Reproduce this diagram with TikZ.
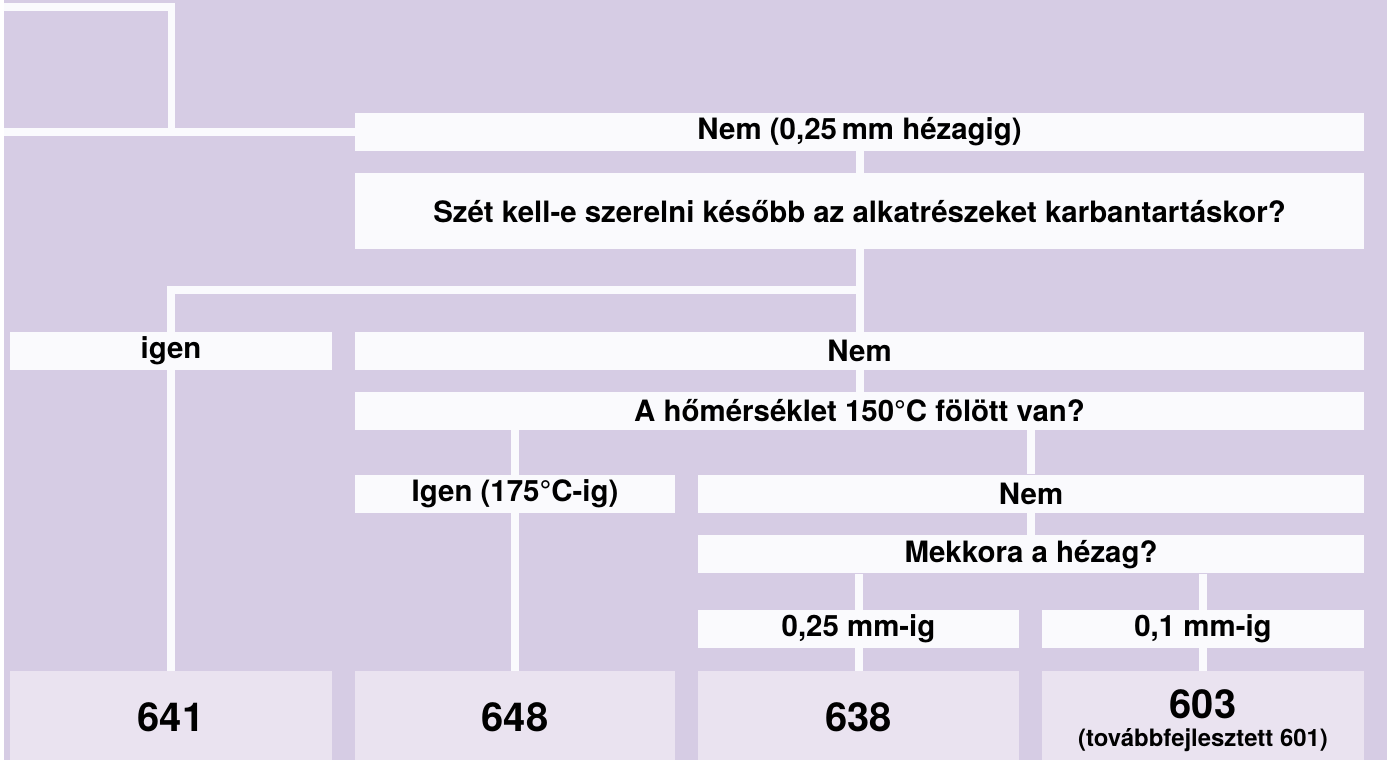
\documentclass[tikz,border=0pt]{standalone}
\usepackage{fontspec}
\setmainfont{TeX Gyre Heros}
\usetikzlibrary{backgrounds}
\definecolor{bgc}{RGB}{214,204,228}
\definecolor{wbox}{RGB}{250,250,253}
\definecolor{pbox}{RGB}{234,227,240}
\tikzset{
  ln/.style={draw=wbox, line width=8pt, line join=miter},
  bx/.style={fill=wbox, inner sep=0pt, minimum height=38pt, text=black,
    font=\bfseries\fontsize{29.5}{34}\selectfont},
  rbox/.style={fill=pbox, inner sep=0pt, minimum height=89pt, text=black,
    text height=33pt, font=\bfseries\fontsize{40}{46}\selectfont},
}
\begin{document}
\begin{tikzpicture}[x=1pt,y=-1pt]
% boxes
\node[bx, minimum width=1012pt] (box1) at (858,132) {Nem (0,25\,mm hézagig)};
\node[bx, minimum width=1012pt, minimum height=76pt] (box2) at (858,212) {Szét kell-e szerelni később az alkatrészeket karbantartáskor?};
\node[bx, minimum width=323pt] (igen) at (167.5,352) {igen};
\node[bx, minimum width=1012pt] (nem1) at (858,352) {Nem};
\node[bx, minimum width=1012pt] (hom) at (858,412) {A hőmérséklet 150°C fölött van?};
\node[bx, minimum width=321pt] (igen175) at (512.5,495) {Igen (175°C-ig)};
\node[bx, minimum width=668pt] (nem2) at (1030,495) {Nem};
\node[bx, minimum width=668pt] (mekk) at (1030,556) {Mekkora a hézag?};
\node[bx, minimum width=322pt] (g25) at (857,631) {0,25 mm-ig};
\node[bx, minimum width=323pt] (g01) at (1202.5,631) {0,1 mm-ig};
\node[rbox, minimum width=323pt] (b641) at (167.5,717.5) {641};
\node[rbox, minimum width=321pt] (b648) at (512.5,717.5) {648};
\node[rbox, minimum width=322pt] (b638) at (857,717.5) {638};
\node[rbox, minimum width=323pt] (b603) at (1202.5,717.5) {};
\node[font=\bfseries\fontsize{40}{46}\selectfont, inner sep=0pt] (t603) at (1202.5,706.5) {603};
\node[font=\bfseries\fontsize{24}{28}\selectfont, inner sep=0pt] (t601) at (1202.5,742) {(továbbfejlesztett 601)};
% connectors
\coordinate (tl) at (0,7);
\coordinate (tv) at (168,132);
\coordinate (jl) at (0,132);
\coordinate (j1) at (858,291);
\begin{scope}[on background layer]
\fill[bgc] (0,0) rectangle (1387,762);
\draw[ln] (tl) -| (tv);
\draw[ln] (jl) -- (box1.west);
\draw[ln] (box1.south) -- (box2.north);
\draw[ln] (box2.south) -- (nem1.north);
\draw[ln] (j1) -| (b641.north);
\draw[ln] (nem1.south) -- (hom.north);
\draw[ln] (b648.north |- hom.south) -- (b648.north);
\draw[ln] (nem2.north |- hom.south) -- (nem2.north);
\draw[ln] (nem2.south) -- (mekk.north);
\draw[ln] (g25.north |- mekk.south) -- (g25.north);
\draw[ln] (g25.south) -- (b638.north);
\draw[ln] (g01.north |- mekk.south) -- (g01.north);
\draw[ln] (g01.south) -- (b603.north);
\end{scope}
\end{tikzpicture}
\end{document}
